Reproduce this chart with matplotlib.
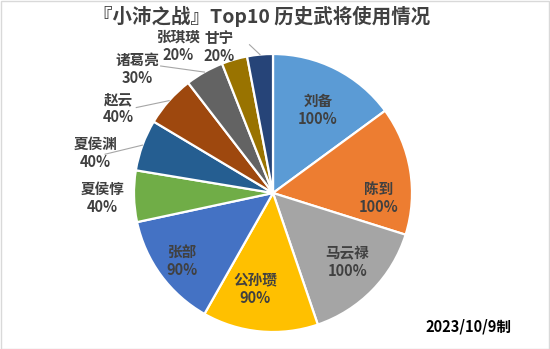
import numpy as np
import matplotlib
matplotlib.use("Agg")
import matplotlib.pyplot as plt
from matplotlib.patches import Rectangle

plt.rcParams['font.family'] = ['Noto Sans CJK SC', 'DejaVu Sans']

# usage rate (%) of each general
names = ["刘备", "陈到", "马云禄", "公孙瓒", "张部", "夏侯惇", "夏侯渊", "赵云", "诸葛亮", "张琪瑛", "甘宁"]
values = [100, 100, 100, 90, 90, 40, 40, 40, 30, 20, 20]
colors = ["#5B9BD5", "#ED7D31", "#A5A5A5", "#FFC000", "#4472C4", "#70AD47",
          "#255E91", "#9E480E", "#636363", "#997300", "#264478"]

title = "『小沛之战』Top10 历史武将使用情况"
footer = "2023/10/9制"

# label placement: (angle shift from wedge middle in degrees, clockwise; radius)
label_layout = [(1.5, 0.68), (12, 0.76), (-1.7, 0.73), (5, 0.70), (-0.5, 0.82),
                (-0.4, 1.23), (-7.4, 1.31), (-12.9, 1.27), (-18.0, 1.32),
                (-16.6, 1.26), (-14.9, 1.12)]
# leader lines: index -> start point (angle from top clockwise, radius)
leaders = {6: (283.0, 1.24), 7: (302.0, 1.16), 8: (318.5, 1.22), 10: (351.0, 1.08)}

W, H = 550, 349
fig = plt.figure(figsize=(W / 100, H / 100), dpi=100)
fig.patches.append(Rectangle((0.5 / W, 0.5 / H), 1 - 1.5 / W, 1 - 1.5 / H,
                             transform=fig.transFigure, fill=False,
                             edgecolor="#D9D9D9", linewidth=1.0))

cx, cy, r = 273, 193, 139
ax = fig.add_axes([(cx - r) / W, (H - cy - r) / H, 2 * r / W, 2 * r / H])
ax.axis("off")

ax.pie(values, colors=colors, startangle=90, counterclock=False, radius=1,
       wedgeprops=dict(edgecolor="white", linewidth=1.6))
ax.set_xlim(-1, 1)
ax.set_ylim(-1, 1)

total = sum(values)
cum = np.cumsum([0] + values)
for i, (name, v) in enumerate(zip(names, values)):
    mid = (cum[i] + v / 2) / total * 360.0
    shift, rad = label_layout[i]
    a = np.deg2rad(mid + shift)
    x, y = rad * np.sin(a), rad * np.cos(a)
    ax.text(x, y, f"{name}\n{v}%", ha="center", va="center", fontsize=10.5,
            color="#404040", fontweight="bold", linespacing=1.15, clip_on=False)
    if i in leaders:
        la, lr = leaders[i]
        la = np.deg2rad(la)
        m = np.deg2rad(mid)
        ax.plot([lr * np.sin(la), 1.0 * np.sin(m)], [lr * np.cos(la), 1.0 * np.cos(m)],
                color="#A6A6A6", linewidth=0.8, clip_on=False)

fig.text(262 / W, 1 - 16 / H, title, ha="center", va="center", fontsize=14,
         color="#404040", fontweight="bold")
fig.text(468 / W, 1 - 326 / H, footer, ha="center", va="center", fontsize=10.5,
         color="black", fontweight="bold")

fig.savefig("out.png", dpi=100)
